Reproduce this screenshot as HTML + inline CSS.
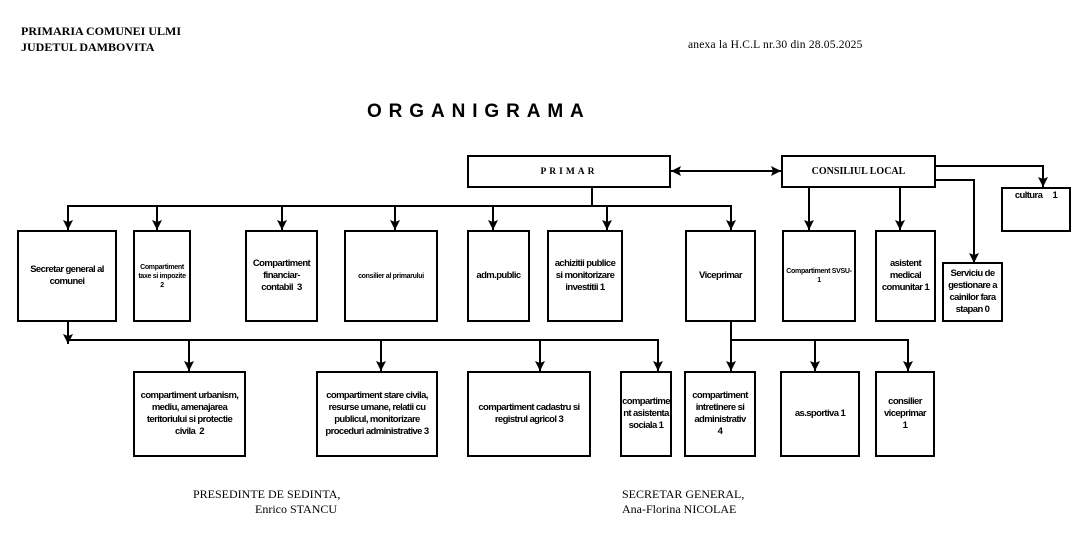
<!DOCTYPE html>
<html><head><meta charset="utf-8"><style>
body{margin:0;width:1090px;height:537px;background:#fff;position:relative;overflow:hidden}
.t{position:absolute;font-family:"Liberation Serif",serif;font-size:12px;color:#000;white-space:nowrap}
.b{position:absolute;border:2px solid #000;box-sizing:border-box;display:flex;align-items:center;justify-content:center;text-align:center;font-family:"Liberation Sans",sans-serif;font-weight:bold;font-size:9.5px;line-height:12px;letter-spacing:-0.6px;background:#fff;white-space:nowrap}
.s{font-size:7px;line-height:9px;letter-spacing:-0.3px}
</style></head><body>
<div class="t" style="left:21px;top:23px;font-weight:bold;line-height:16px">PRIMARIA COMUNEI ULMI<br>JUDETUL DAMBOVITA</div>
<div class="t" style="left:688px;top:39px;font-size:11.5px;letter-spacing:0.2px">anexa la H.C.L nr.30 din 28.05.2025</div>
<div class="t" style="left:367px;top:101px;font-family:'Liberation Sans',sans-serif;font-weight:bold;font-size:19px;letter-spacing:6.9px">ORGANIGRAMA</div>
<div class="t" style="left:193px;top:487px;line-height:15px">PRESEDINTE DE SEDINTA,<br><span style="margin-left:62px">Enrico STANCU</span></div>
<div class="t" style="left:622px;top:487px;line-height:15px">SECRETAR GENERAL,<br>Ana-Florina NICOLAE</div>

<svg width="1090" height="537" style="position:absolute;left:0;top:0">
<defs>
<marker id="a" markerWidth="12" markerHeight="10" refX="11" refY="5" orient="auto" markerUnits="userSpaceOnUse" viewBox="0 0 12 10"><path d="M1,0 L11,5 L1,10 L3,5z" fill="#000"/></marker>
<marker id="h" markerWidth="12" markerHeight="10" refX="11" refY="5" orient="auto-start-reverse" markerUnits="userSpaceOnUse" viewBox="0 0 12 10"><path d="M1,0 L11,5 L1,10 L3,5z" fill="#000"/></marker></defs>
<g stroke="#000" stroke-width="2" fill="none">
<line x1="592" y1="187" x2="592" y2="206"/>
<line x1="67" y1="206" x2="732" y2="206"/>
<line x1="68" y1="206" x2="68" y2="230" marker-end="url(#a)"/>
<line x1="157" y1="206" x2="157" y2="230" marker-end="url(#a)"/>
<line x1="282" y1="206" x2="282" y2="230" marker-end="url(#a)"/>
<line x1="395" y1="206" x2="395" y2="230" marker-end="url(#a)"/>
<line x1="493" y1="206" x2="493" y2="230" marker-end="url(#a)"/>
<line x1="607" y1="206" x2="607" y2="230" marker-end="url(#a)"/>
<line x1="731" y1="206" x2="731" y2="230" marker-end="url(#a)"/>
<line x1="671" y1="171" x2="781" y2="171" marker-start="url(#h)" marker-end="url(#h)"/>
<line x1="809" y1="187" x2="809" y2="230" marker-end="url(#a)"/>
<line x1="900" y1="187" x2="900" y2="230" marker-end="url(#a)"/>
<polyline points="935,166 1043,166 1043,187" marker-end="url(#a)"/>
<polyline points="935,180 974,180 974,263" marker-end="url(#a)"/>
<line x1="68" y1="321" x2="68" y2="344" marker-end="url(#a)"/>
<line x1="67" y1="340" x2="659" y2="340"/>
<line x1="189" y1="340" x2="189" y2="371" marker-end="url(#a)"/>
<line x1="381" y1="340" x2="381" y2="371" marker-end="url(#a)"/>
<line x1="540" y1="340" x2="540" y2="371" marker-end="url(#a)"/>
<line x1="658" y1="340" x2="658" y2="371" marker-end="url(#a)"/>
<line x1="731" y1="321" x2="731" y2="371" marker-end="url(#a)"/>
<line x1="731" y1="340" x2="909" y2="340"/>
<line x1="815" y1="340" x2="815" y2="371" marker-end="url(#a)"/>
<line x1="908" y1="340" x2="908" y2="371" marker-end="url(#a)"/>
</g></svg>

<div class="b" style="left:467px;top:155px;width:204px;height:33px;font-family:'Liberation Serif',serif;font-size:9.5px;letter-spacing:3px">PRIMAR</div>
<div class="b" style="left:781px;top:155px;width:155px;height:33px;font-family:'Liberation Serif',serif;font-size:10px;letter-spacing:0">CONSILIUL LOCAL</div>
<div class="b" style="left:1001px;top:187px;width:70px;height:45px;align-items:flex-start;padding-top:1px">cultura &nbsp;&nbsp;&nbsp;&nbsp;1</div>

<div class="b" style="left:17px;top:230px;width:100px;height:92px">Secretar general al<br>comunei</div>
<div class="b s" style="left:133px;top:230px;width:58px;height:92px">Compartiment<br>taxe si impozite<br>2</div>
<div class="b" style="left:245px;top:230px;width:73px;height:92px">Compartiment<br>financiar-<br>contabil&nbsp; 3</div>
<div class="b s" style="left:344px;top:230px;width:94px;height:92px">consilier al primarului</div>
<div class="b" style="left:467px;top:230px;width:63px;height:92px">adm.public</div>
<div class="b" style="left:547px;top:230px;width:76px;height:92px">achizitii publice<br>si monitorizare<br>investitii 1</div>
<div class="b" style="left:685px;top:230px;width:71px;height:92px">Viceprimar</div>
<div class="b s" style="left:782px;top:230px;width:74px;height:92px">Compartiment SVSU-<br>1</div>
<div class="b" style="left:875px;top:230px;width:61px;height:92px">asistent<br>medical<br>comunitar 1</div>
<div class="b" style="left:942px;top:262px;width:61px;height:60px">Serviciu de<br>gestionare a<br>cainilor fara<br>stapan 0</div>

<div class="b" style="left:133px;top:371px;width:113px;height:86px">compartiment urbanism,<br>mediu, amenajarea<br>teritoriului si protectie<br>civila&nbsp; 2</div>
<div class="b" style="left:316px;top:371px;width:122px;height:86px">compartiment stare civila,<br>resurse umane, relatii cu<br>publicul, monitorizare<br>proceduri administrative 3</div>
<div class="b" style="left:467px;top:371px;width:124px;height:86px">compartiment cadastru si<br>registrul agricol 3</div>
<div class="b" style="left:620px;top:371px;width:52px;height:86px">compartime<br>nt asistenta<br>sociala 1</div>
<div class="b" style="left:684px;top:371px;width:72px;height:86px">compartiment<br>intretinere si<br>administrativ<br>4</div>
<div class="b" style="left:780px;top:371px;width:80px;height:86px">as.sportiva 1</div>
<div class="b" style="left:875px;top:371px;width:60px;height:86px">consilier<br>viceprimar<br>1</div>
</body></html>
